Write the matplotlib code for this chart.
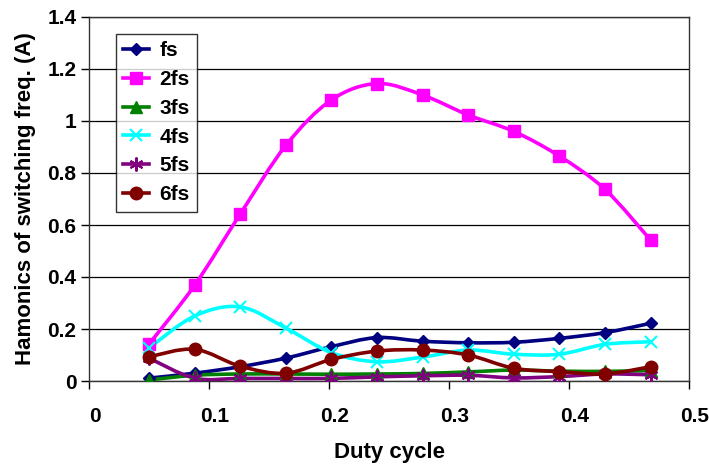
import numpy as np
import matplotlib
matplotlib.use("Agg")
import matplotlib.pyplot as plt
from matplotlib.path import Path
from matplotlib.patches import PathPatch
import matplotlib.transforms as mtransforms

duty = [0.050, 0.088, 0.126, 0.164, 0.202, 0.240, 0.278, 0.316, 0.354, 0.392, 0.430, 0.468]
fs  = [0.011, 0.030, 0.055, 0.088, 0.132, 0.167, 0.153, 0.147, 0.149, 0.164, 0.186, 0.222]
f2s = [0.142, 0.368, 0.642, 0.906, 1.081, 1.144, 1.100, 1.023, 0.960, 0.865, 0.737, 0.542]
f3s = [0.004, 0.022, 0.027, 0.027, 0.026, 0.027, 0.029, 0.035, 0.042, 0.038, 0.037, 0.040]
f4s = [0.127, 0.250, 0.285, 0.204, 0.109, 0.074, 0.092, 0.119, 0.103, 0.103, 0.141, 0.151]
f5s = [0.088, 0.011, 0.010, 0.010, 0.010, 0.016, 0.020, 0.022, 0.012, 0.017, 0.027, 0.024]
f6s = [0.093, 0.122, 0.057, 0.030, 0.083, 0.115, 0.119, 0.100, 0.049, 0.036, 0.027, 0.055]

series_names = ["fs", "2fs", "3fs", "4fs", "5fs", "6fs"]
series_vals = [fs, f2s, f3s, f4s, f5s, f6s]
colors = ["#000080", "#FF00FF", "#008000", "#00FFFF", "#800080", "#800000"]
markers = ["D", "s", "^", "x", (6, 2, 0), "o"]
msizes = [6, 8, 8, 9, 10, 9]

x_ticks = [0, 0.1, 0.2, 0.3, 0.4, 0.5]
x_ticklabels = ["0", "0.1", "0.2", "0.3", "0.4", "0.5"]
y_ticks = [0, 0.2, 0.4, 0.6, 0.8, 1.0, 1.2, 1.4]
y_ticklabels = ["0", "0.2", "0.4", "0.6", "0.8", "1", "1.2", "1.4"]

plt.rcParams['font.family'] = ['Liberation Sans', 'DejaVu Sans']
plt.rcParams['font.weight'] = 'bold'
FS = 15
LFS = 16

fig = plt.figure(figsize=(7.09, 4.65), dpi=100)
ax = fig.add_axes([89/709, (465-381)/465, (689-89)/709, (381-17)/465])


def smooth_path(xs, ys):
    # Excel-style smoothed line: cubic Bezier through points (Catmull-Rom, tension 1/6)
    xs = np.asarray(xs, float); ys = np.asarray(ys, float)
    n = len(xs)
    verts = [(xs[0], ys[0])]
    codes = [Path.MOVETO]
    for i in range(n - 1):
        p0 = np.array([xs[max(i-1, 0)], ys[max(i-1, 0)]])
        p1 = np.array([xs[i], ys[i]])
        p2 = np.array([xs[i+1], ys[i+1]])
        p3 = np.array([xs[min(i+2, n-1)], ys[min(i+2, n-1)]])
        c1 = p1 + (p2 - p0) / 6.0
        c2 = p2 - (p3 - p1) / 6.0
        verts += [tuple(c1), tuple(c2), tuple(p2)]
        codes += [Path.CURVE4] * 3
    return Path(verts, codes)

for name, vals, c, m, ms in zip(series_names, series_vals, colors, markers, msizes):
    patch = PathPatch(smooth_path(duty, vals), facecolor='none', edgecolor=c, lw=2.6, zorder=3)
    ax.add_patch(patch)
    mew = 1.5 if m in ("x",) or isinstance(m, tuple) else 1
    ax.plot(duty, vals, linestyle='none', marker=m, color=c, markersize=ms,
            markeredgewidth=mew, zorder=4)
    ax.plot([], [], color=c, lw=2.6, marker=m, markersize=ms, markeredgewidth=mew, label=name)

ax.set_xlim(0, 0.5)
ax.set_ylim(0, 1.4)
ax.set_xticks(x_ticks)
ax.set_xticklabels(x_ticklabels)
ax.set_yticks(y_ticks)
ax.set_yticklabels(y_ticklabels)
ax.grid(axis='y', color='black', lw=0.9)
ax.set_axisbelow(True)
for s in ax.spines.values():
    s.set_color('#333333'); s.set_linewidth(1.0)
ax.tick_params(axis='both', direction='out', length=6, width=1, labelsize=FS, colors='black')
ax.tick_params(axis='x', pad=13)
ax.tick_params(axis='y', pad=3)
off = mtransforms.ScaledTranslation(6/100, 0, fig.dpi_scale_trans)
for lab in ax.get_xticklabels():
    lab.set_transform(lab.get_transform() + off)

ax.set_xlabel("Duty cycle", fontsize=LFS, fontweight='bold', labelpad=11)
ax.set_ylabel("Hamonics of switching freq. (A)", fontsize=LFS, fontweight='bold', labelpad=8)

leg = ax.legend(loc='upper left', bbox_to_anchor=((116-89)/600, (381-34)/364),
                frameon=True, fancybox=False, shadow=False, fontsize=FS,
                handlelength=1.25, handletextpad=0.5, labelspacing=0.47, borderpad=0.35,
                borderaxespad=0)
leg.get_frame().set_edgecolor('black')
leg.get_frame().set_linewidth(1.0)
for t in leg.get_texts():
    t.set_fontweight('bold')

fig.savefig("out.png", dpi=100, facecolor='white')
